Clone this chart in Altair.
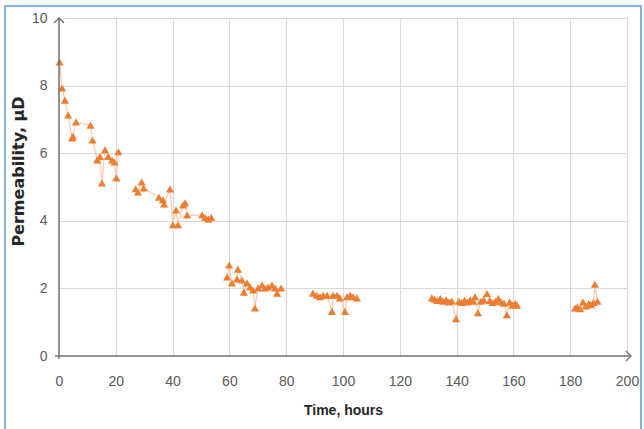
import altair as alt
import pandas as pd

# ---- data (hours, permeability in microdarcy) ----
seg1_hours = [0.2, 1.1, 2.1, 3.2, 4.6, 4.9, 6.0, 11.1, 11.8, 13.4, 14.4, 15.1, 16.2, 17.3, 18.7, 19.5, 20.2, 20.9]
seg1_perm = [8.70, 7.93, 7.57, 7.13, 6.45, 6.50, 6.92, 6.83, 6.39, 5.80, 5.90, 5.12, 6.10, 5.90, 5.80, 5.74, 5.27, 6.04]

seg2_hours = [27.0, 27.8, 29.1, 29.8, 35.2, 36.6, 37.0, 39.1, 40.1, 41.2, 41.9, 43.7, 44.4, 45.1, 50.4, 51.5, 52.6, 53.6]
seg2_perm = [4.95, 4.85, 5.15, 4.97, 4.70, 4.62, 4.50, 4.94, 3.88, 4.32, 3.88, 4.47, 4.53, 4.17, 4.17, 4.10, 4.05, 4.10]

seg3_hours = [59.2, 59.9, 60.9, 62.7, 63.0, 64.4, 65.1, 66.2, 67.3, 68.3, 69.0, 70.1, 71.5, 72.5, 73.6, 75.0, 76.1, 76.8, 78.2]
seg3_perm = [2.34, 2.69, 2.16, 2.28, 2.57, 2.25, 1.89, 2.16, 2.04, 1.95, 1.42, 2.01, 2.10, 2.01, 2.04, 2.10, 2.01, 1.86, 2.01]

seg4_hours = [89.4, 90.8, 91.9, 93.0, 94.4, 96.1, 96.5, 97.9, 98.9, 100.7, 101.4, 102.5, 103.5, 104.9]
seg4_perm = [1.86, 1.80, 1.75, 1.80, 1.80, 1.32, 1.80, 1.80, 1.72, 1.32, 1.75, 1.80, 1.75, 1.72]

seg5_hours = [131.3, 132.3, 133.3, 134.3, 135.3, 136.3, 137.3, 138.3, 139.8, 140.8, 141.8, 142.8, 143.8, 144.8, 145.8, 146.5,
              147.5, 148.5, 149.5, 150.7, 151.7, 152.7, 153.7, 154.7, 155.7, 156.7, 157.7, 158.7, 159.7, 160.7, 161.3]
seg5_perm = [1.72, 1.68, 1.64, 1.70, 1.62, 1.66, 1.60, 1.63, 1.10, 1.62, 1.58, 1.65, 1.60, 1.66, 1.62, 1.75,
             1.28, 1.62, 1.66, 1.85, 1.64, 1.58, 1.62, 1.70, 1.60, 1.56, 1.22, 1.60, 1.50, 1.56, 1.50]

seg6_hours = [181.7, 182.5, 183.5, 184.5, 185.5, 186.5, 187.3, 188.2, 188.7, 189.6]
seg6_perm = [1.42, 1.45, 1.40, 1.60, 1.48, 1.55, 1.52, 1.58, 2.12, 1.62]

x_ticks = [0, 20, 40, 60, 80, 100, 120, 140, 160, 180, 200]
y_ticks = [0, 2, 4, 6, 8, 10]

segments = [(seg1_hours, seg1_perm), (seg2_hours, seg2_perm), (seg3_hours, seg3_perm),
            (seg4_hours, seg4_perm), (seg5_hours, seg5_perm), (seg6_hours, seg6_perm)]
rows = []
for i, (hs, ps) in enumerate(segments):
    for h, p in zip(hs, ps):
        rows.append({"hours": h, "perm": p, "seg": i})
df = pd.DataFrame(rows)

W, H = 568, 338
LABEL_FONT = "Liberation Sans, sans-serif"
AXIS_GRAY = "#737373"

x_enc = alt.X(
    "hours:Q",
    scale=alt.Scale(domain=[0, 200], nice=False),
    axis=alt.Axis(values=x_ticks, title="Time, hours", grid=True, gridColor="#d9d9d9", gridWidth=1,
                  domain=False, ticks=False, labelFont=LABEL_FONT, labelFontSize=14, labelColor="#595959",
                  labelPadding=18, labelFlush=False, titleFont=LABEL_FONT, titleFontSize=14,
                  titleFontWeight="bold", titleColor="#262626", titleX=W / 2, titleY=54,
                  titleAlign="center", titleBaseline="middle"),
)
y_enc = alt.Y(
    "perm:Q",
    scale=alt.Scale(domain=[0, 10], nice=False),
    axis=alt.Axis(values=y_ticks, title="Permeability, μD", grid=True, gridColor="#d9d9d9", gridWidth=1,
                  domain=False, ticks=False, labelFont=LABEL_FONT, labelFontSize=14, labelColor="#595959",
                  labelPadding=12, titleFont="DejaVu Sans", titleFontSize=16, titleFontWeight="bold",
                  titleColor="#262626", titleX=-41, titleY=153, titleAngle=270, titleAlign="center",
                  titleBaseline="middle"),
)

base = alt.Chart(df).encode(x=x_enc, y=y_enc)
lines = base.mark_line(color="#F8CBAD", strokeWidth=1.2).encode(detail="seg:N")
points = base.mark_point(shape="triangle-up", filled=True, color="#ED7D31", size=66, opacity=1)

one = alt.Data(values=[{}])
border = alt.Chart(one).mark_rect(filled=False, stroke="#5B9BD5", strokeWidth=1.5).encode(
    x=alt.value(-54), x2=alt.value(582), y=alt.value(-12), y2=alt.value(420))
y_axis_line = alt.Chart(one).mark_rule(color=AXIS_GRAY, strokeWidth=1.5).encode(
    x=alt.value(0), y=alt.value(0), y2=alt.value(H + 3))
x_axis_line = alt.Chart(one).mark_rule(color=AXIS_GRAY, strokeWidth=1.5).encode(
    x=alt.value(-4), x2=alt.value(W + 4), y=alt.value(H))
y_arrow = alt.Chart(one).mark_point(shape="M-1,1L0,0L1,1", filled=False, stroke=AXIS_GRAY,
                                    strokeWidth=1.3, size=100, opacity=1).encode(
    x=alt.value(0), y=alt.value(0))
x_arrow = alt.Chart(one).mark_point(shape="M-1,-1L0,0L-1,1", filled=False, stroke=AXIS_GRAY,
                                    strokeWidth=1.3, size=100, opacity=1).encode(
    x=alt.value(W + 4), y=alt.value(H))

chart = alt.layer(border, lines, points, y_axis_line, x_axis_line, y_arrow, x_arrow).properties(
    width=W, height=H,
    autosize=alt.AutoSizeParams(type="none"),
    padding={"left": 59, "top": 18, "right": 644 - 59 - W, "bottom": 429 - 18 - H},
    background="white",
).configure_view(stroke=None)

chart.save("out.html", embed_options={"renderer": "svg", "actions": False})
